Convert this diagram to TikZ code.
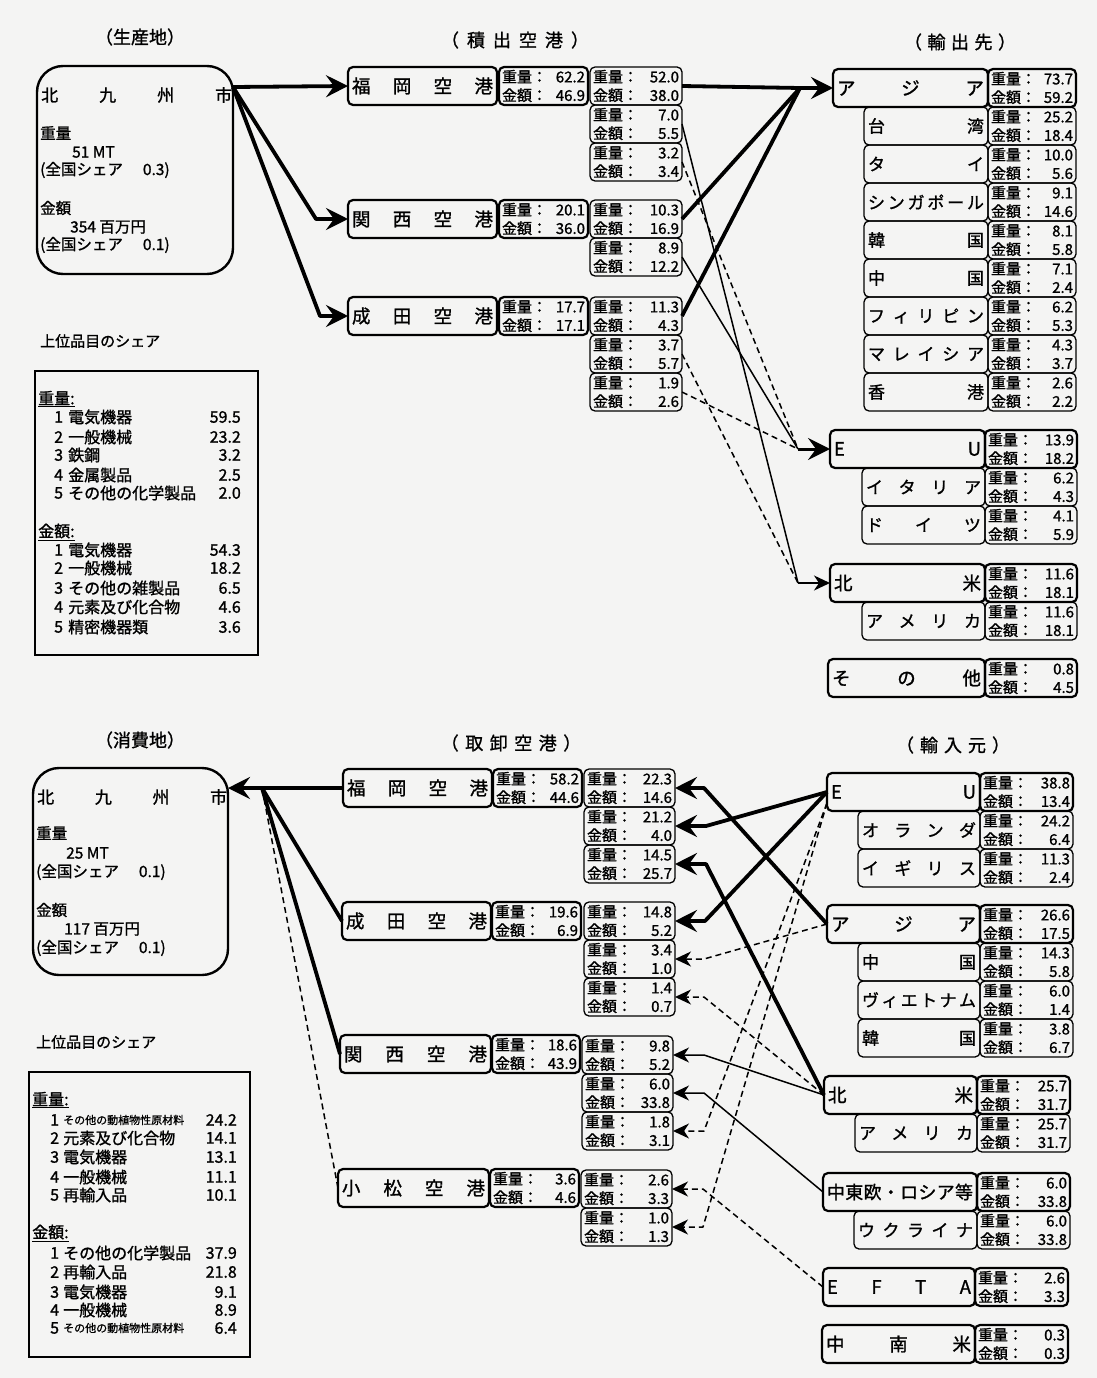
\documentclass[tikz,border=0pt]{standalone}
\usepackage{fontspec}
\setmainfont{Noto Sans CJK JP}[FakeBold=1.2]
\usetikzlibrary{arrows.meta}
\definecolor{paper}{RGB}{244,244,243}
\newcommand{\vfont}{\fontsize{15}{18.5}\selectfont}
\newcommand{\lbx}[2]{\makebox[\dimexpr#1pt-8pt\relax]{#2}}
\newcommand{\vb}[3]{\parbox{\dimexpr#1pt-6pt\relax}{\vfont 重量：\hfill #2\par 金額：\hfill #3}}
\newcommand{\VB}[6]{\node[#1, minimum width=#4pt] (#2) at (#3) {\vb{#4}{#5}{#6}};}
\newcommand{\LB}[5]{\node[#1, minimum width=#4pt] (#2) at (#3) {\lbx{#4}{#5}};}
\newcommand{\IT}[8]{%
\node[anchor=west,inner sep=0pt] (#1n) at (#2,#5) {#6};
\node[anchor=west,inner sep=0pt] (#1t) at (#3,#5) {#7};
\node[anchor=east,inner sep=0pt] (#1v) at (#4,#5) {#8};}
\newcommand{\smallt}[1]{{\fontsize{11}{13}\selectfont #1}}
\tikzset{
 bx/.style={draw, rounded corners=5pt, inner sep=0pt, outer sep=0pt, anchor=north west, minimum height=38pt},
 tkb/.style={bx, line width=2.2pt, font=\fontsize{18.5}{20}\selectfont},
 tnb/.style={bx, line width=1.3pt, font=\fontsize{17}{19}\selectfont},
 bigbox/.style={draw, line width=2.4pt, inner sep=0pt, outer sep=0pt, anchor=north west},
 txt/.style={inner sep=0pt, anchor=west},
 hdr/.style={inner sep=0pt, font=\fontsize{18}{20}\selectfont},
 thk/.style={line width=3.8pt, line join=round},
 thn/.style={line width=1.5pt, line join=round},
 dsh/.style={line width=1.5pt, dash pattern=on 6pt off 4pt, line join=round},
 BigTip/.tip={Stealth[length=22pt,width=22pt,inset=8pt]},
 SmlTip/.tip={Stealth[length=16pt,width=15pt,inset=5pt]},
}
\begin{document}
\begin{tikzpicture}[x=1pt,y=-1pt]
\useasboundingbox (0,0) rectangle (1097,1378);
\fill[paper] (0,0) rectangle (1097,1378);

% ---------------- headers ----------------
\node[hdr] (h1) at (140,37) {（生産地）};
\node[hdr] (h2) at (515,40) {（\hspace{8pt}積\hspace{8pt}出\hspace{8pt}空\hspace{8pt}港\hspace{8pt}）};
\node[hdr] (h3) at (960,42) {（\hspace{5.5pt}輸\hspace{5.5pt}出\hspace{5.5pt}先\hspace{5.5pt}）};
\node[hdr] (h4) at (140,740) {（消費地）};
\node[hdr] (h5) at (511,743) {（\hspace{6.5pt}取\hspace{6.5pt}卸\hspace{6.5pt}空\hspace{6.5pt}港\hspace{6.5pt}）};
\node[hdr] (h6) at (953,745) {（\hspace{6pt}輸\hspace{6pt}入\hspace{6pt}元\hspace{6pt}）};

% ---------------- top left ----------------
\node[draw, line width=2.4pt, rounded corners=26pt, minimum width=196pt, minimum height=208pt, anchor=north west, inner sep=0pt, outer sep=0pt] (prod) at (37,66) {};
\node[txt, font=\fontsize{17}{20}\selectfont] (pt1) at (41,95) {\makebox[191pt]{北\hfill 九\hfill 州\hfill 市}};
\begin{scope}[every node/.style={txt, font=\fontsize{15.5}{18}\selectfont}]
\node (pt2) at (40,133) {重量};
\node (pt3) at (72,152) {51 MT};
\node (pt4) at (40,170) {(全国シェア\hspace{20pt}0.3)};
\node (pt5) at (40,208) {金額};
\node (pt6) at (70,227) {354 百万円};
\node (pt7) at (40,245) {(全国シェア\hspace{20pt}0.1)};
\end{scope}
\node[txt, font=\fontsize{15}{17}\selectfont] (lab1) at (40,341) {上位品目のシェア};
\node[bigbox, minimum width=223pt, minimum height=284pt] (top5a) at (35,371) {};
\begin{scope}[font=\fontsize{16}{18}\selectfont]
\node[txt] (ha1) at (38,399) {\underline{重量:}};
\IT{a1}{54}{68}{241}{417}{1}{電気機器}{59.5}
\IT{a2}{54}{68}{241}{437}{2}{一般機械}{23.2}
\IT{a3}{54}{68}{241}{455}{3}{鉄鋼}{3.2}
\IT{a4}{54}{68}{241}{475}{4}{金属製品}{2.5}
\IT{a5}{54}{68}{241}{493}{5}{その他の化学製品}{2.0}
\node[txt] (ha2) at (38,532) {\underline{金額:}};
\IT{a6}{54}{68}{241}{550}{1}{電気機器}{54.3}
\IT{a7}{54}{68}{241}{568}{2}{一般機械}{18.2}
\IT{a8}{54}{68}{241}{588}{3}{その他の雑製品}{6.5}
\IT{a9}{54}{68}{241}{607}{4}{元素及び化合物}{4.6}
\IT{a10}{54}{68}{241}{627}{5}{精密機器類}{3.6}
\end{scope}

% ---------------- top airports ----------------
\LB{tkb}{F}{348,67}{149}{福\hfill 岡\hfill 空\hfill 港}
\VB{tkb}{Fv}{499,67}{89}{62.2}{46.9}
\VB{tnb}{F1}{590,67}{92}{52.0}{38.0}
\VB{tnb}{F2}{590,105}{92}{7.0}{5.5}
\VB{tnb}{F3}{590,143}{92}{3.2}{3.4}
\LB{tkb}{K}{348,200}{149}{関\hfill 西\hfill 空\hfill 港}
\VB{tkb}{Kv}{499,200}{89}{20.1}{36.0}
\VB{tnb}{K1}{590,200}{92}{10.3}{16.9}
\VB{tnb}{K2}{590,238}{92}{8.9}{12.2}
\LB{tkb}{N}{348,297}{149}{成\hfill 田\hfill 空\hfill 港}
\VB{tkb}{Nv}{499,297}{89}{17.7}{17.1}
\VB{tnb}{N1}{590,297}{92}{11.3}{4.3}
\VB{tnb}{N2}{590,335}{92}{3.7}{5.7}
\VB{tnb}{N3}{590,373}{92}{1.9}{2.6}

% ---------------- top destinations ----------------
\LB{tkb}{As}{833,69}{155}{ア\hfill ジ\hfill ア}
\VB{tkb}{Asv}{988,69}{88}{73.7}{59.2}
\LB{tnb}{dTW}{864,107}{124}{台\hfill 湾}
\VB{tnb}{dTWv}{988,107}{88}{25.2}{18.4}
\LB{tnb}{dTH}{864,145}{124}{タ\hfill イ}
\VB{tnb}{dTHv}{988,145}{88}{10.0}{5.6}
\LB{tnb}{dSG}{864,183}{124}{シ\hfill ン\hfill ガ\hfill ポ\hfill ー\hfill ル}
\VB{tnb}{dSGv}{988,183}{88}{9.1}{14.6}
\LB{tnb}{dKR}{864,221}{124}{韓\hfill 国}
\VB{tnb}{dKRv}{988,221}{88}{8.1}{5.8}
\LB{tnb}{dCN}{864,259}{124}{中\hfill 国}
\VB{tnb}{dCNv}{988,259}{88}{7.1}{2.4}
\LB{tnb}{dPH}{864,297}{124}{フ\hfill ィ\hfill リ\hfill ピ\hfill ン}
\VB{tnb}{dPHv}{988,297}{88}{6.2}{5.3}
\LB{tnb}{dMY}{864,335}{124}{マ\hfill レ\hfill イ\hfill シ\hfill ア}
\VB{tnb}{dMYv}{988,335}{88}{4.3}{3.7}
\LB{tnb}{dHK}{864,373}{124}{香\hfill 港}
\VB{tnb}{dHKv}{988,373}{88}{2.6}{2.2}

\LB{tkb}{EU}{830,430}{155}{E\hfill U}
\VB{tkb}{EUv}{985,430}{92}{13.9}{18.2}
\LB{tnb}{dIT}{862,468}{123}{イ\hfill タ\hfill リ\hfill ア}
\VB{tnb}{dITv}{985,468}{92}{6.2}{4.3}
\LB{tnb}{dDE}{862,506}{123}{ド\hfill イ\hfill ツ}
\VB{tnb}{dDEv}{985,506}{92}{4.1}{5.9}
\LB{tkb}{NA}{830,564}{155}{北\hfill 米}
\VB{tkb}{NAv}{985,564}{92}{11.6}{18.1}
\LB{tnb}{dUS}{862,602}{123}{ア\hfill メ\hfill リ\hfill カ}
\VB{tnb}{dUSv}{985,602}{92}{11.6}{18.1}
\LB{tkb}{OT}{828,659}{157}{そ\hfill の\hfill 他}
\VB{tkb}{OTv}{985,659}{92}{0.8}{4.5}

% ---------------- top connectors ----------------
\coordinate (src) at (233,87);
\draw[thk,-{BigTip}] (src) -- (F.west);
\draw[thk,-{BigTip}] (src) -- ([xshift=-32pt]K.west) -- (K.west);
\draw[thk,-{BigTip}] (src) -- ([xshift=-28pt]N.west) -- (N.west);

\coordinate (jAs) at ([xshift=-33pt]As.west);
\coordinate (jEU) at ([xshift=-32pt]EU.west);
\coordinate (jNA) at ([xshift=-32pt]NA.west);
\draw[thk] (F1.east) -- (jAs);
\draw[thk] (K1.east) -- (jAs);
\draw[thk] (N1.east) -- (jAs);
\draw[thk,-{BigTip}] (jAs) -- (As.west);
\draw[dsh] (F3.east) -- (jEU);
\draw[thn] (K2.east) -- (jEU);
\draw[dsh] (N3.east) -- (jEU);
\draw[line width=3pt,-{BigTip}] (jEU) -- (EU.west);
\draw[thn] (F2.east) -- (jNA);
\draw[dsh] (N2.east) -- (jNA);
\draw[thn,-{SmlTip}] (jNA) -- (NA.west);

% ---------------- bottom left ----------------
\node[draw, line width=2.4pt, rounded corners=26pt, minimum width=195pt, minimum height=207pt, anchor=north west, inner sep=0pt, outer sep=0pt] (cons) at (33,768) {};
\node[txt, font=\fontsize{17}{20}\selectfont] (ct1) at (37,797) {\makebox[190pt]{北\hfill 九\hfill 州\hfill 市}};
\begin{scope}[every node/.style={txt, font=\fontsize{15.5}{18}\selectfont}]
\node (ct2) at (36,833) {重量};
\node (ct3) at (66,853) {25 MT};
\node (ct4) at (36,872) {(全国シェア\hspace{20pt}0.1)};
\node (ct5) at (36,910) {金額};
\node (ct6) at (64,929) {117 百万円};
\node (ct7) at (36,948) {(全国シェア\hspace{20pt}0.1)};
\end{scope}
\node[txt, font=\fontsize{15}{17}\selectfont] (lab2) at (36,1042) {上位品目のシェア};
\node[bigbox, minimum width=221pt, minimum height=285pt] (top5b) at (29,1072) {};
\begin{scope}[font=\fontsize{16}{18}\selectfont]
\node[txt] (hb1) at (32,1100) {\underline{重量:}};
\IT{b1}{50}{63}{237}{1120}{1}{\smallt{その他の動植物性原材料}}{24.2}
\IT{b2}{50}{63}{237}{1138}{2}{元素及び化合物}{14.1}
\IT{b3}{50}{63}{237}{1157}{3}{電気機器}{13.1}
\IT{b4}{50}{63}{237}{1177}{4}{一般機械}{11.1}
\IT{b5}{50}{63}{237}{1195}{5}{再輸入品}{10.1}
\node[txt] (hb2) at (32,1233) {\underline{金額:}};
\IT{b6}{50}{63}{237}{1253}{1}{その他の化学製品}{37.9}
\IT{b7}{50}{63}{237}{1272}{2}{再輸入品}{21.8}
\IT{b8}{50}{63}{237}{1292}{3}{電気機器}{9.1}
\IT{b9}{50}{63}{237}{1310}{4}{一般機械}{8.9}
\IT{b10}{50}{63}{237}{1328}{5}{\smallt{その他の動植物性原材料}}{6.4}
\end{scope}

% ---------------- bottom airports ----------------
\LB{tkb}{bF}{343,769}{149}{福\hfill 岡\hfill 空\hfill 港}
\VB{tkb}{bFv}{493,769}{89}{58.2}{44.6}
\VB{tnb}{bF1}{584,769}{91}{22.3}{14.6}
\VB{tnb}{bF2}{584,807}{91}{21.2}{4.0}
\VB{tnb}{bF3}{584,845}{91}{14.5}{25.7}
\LB{tkb}{bN}{342,902}{149}{成\hfill 田\hfill 空\hfill 港}
\VB{tkb}{bNv}{492,902}{89}{19.6}{6.9}
\VB{tnb}{bN1}{584,902}{91}{14.8}{5.2}
\VB{tnb}{bN2}{584,940}{91}{3.4}{1.0}
\VB{tnb}{bN3}{584,978}{91}{1.4}{0.7}
\LB{tkb}{bK}{340,1035}{151}{関\hfill 西\hfill 空\hfill 港}
\VB{tkb}{bKv}{492,1035}{88}{18.6}{43.9}
\VB{tnb}{bK1}{582,1036}{91}{9.8}{5.2}
\VB{tnb}{bK2}{582,1074}{91}{6.0}{33.8}
\VB{tnb}{bK3}{582,1112}{91}{1.8}{3.1}
\LB{tkb}{bM}{338,1169}{151}{小\hfill 松\hfill 空\hfill 港}
\VB{tkb}{bMv}{490,1169}{89}{3.6}{4.6}
\VB{tnb}{bM1}{581,1170}{91}{2.6}{3.3}
\VB{tnb}{bM2}{581,1208}{91}{1.0}{1.3}

% ---------------- bottom sources ----------------
\LB{tkb}{sEU}{827,773}{153}{E\hfill U}
\VB{tkb}{sEUv}{980,773}{93}{38.8}{13.4}
\LB{tnb}{sNL}{858,811}{122}{オ\hfill ラ\hfill ン\hfill ダ}
\VB{tnb}{sNLv}{980,811}{93}{24.2}{6.4}
\LB{tnb}{sUK}{858,849}{122}{イ\hfill ギ\hfill リ\hfill ス}
\VB{tnb}{sUKv}{980,849}{93}{11.3}{2.4}
\LB{tkb}{sAs}{827,905}{153}{ア\hfill ジ\hfill ア}
\VB{tkb}{sAsv}{980,905}{93}{26.6}{17.5}
\LB{tnb}{sCN}{858,943}{122}{中\hfill 国}
\VB{tnb}{sCNv}{980,943}{93}{14.3}{5.8}
\LB{tnb}{sVN}{858,981}{122}{ヴ\hfill ィ\hfill エ\hfill ト\hfill ナ\hfill ム}
\VB{tnb}{sVNv}{980,981}{93}{6.0}{1.4}
\LB{tnb}{sKR}{858,1019}{122}{韓\hfill 国}
\VB{tnb}{sKRv}{980,1019}{93}{3.8}{6.7}
\LB{tkb}{sNA}{824,1076}{153}{北\hfill 米}
\VB{tkb}{sNAv}{977,1076}{93}{25.7}{31.7}
\LB{tnb}{sUS}{855,1114}{122}{ア\hfill メ\hfill リ\hfill カ}
\VB{tnb}{sUSv}{977,1114}{93}{25.7}{31.7}
\LB{tkb}{sCE}{823,1173}{154}{\fontsize{18}{20}\selectfont 中\hfill 東\hfill 欧\hfill ・\hfill ロ\hfill シ\hfill ア\hfill 等}
\VB{tkb}{sCEv}{977,1173}{93}{6.0}{33.8}
\LB{tnb}{sUA}{854,1211}{123}{ウ\hfill ク\hfill ラ\hfill イ\hfill ナ}
\VB{tnb}{sUAv}{977,1211}{93}{6.0}{33.8}
\LB{tkb}{sEF}{823,1268}{152}{E\hfill F\hfill T\hfill A}
\VB{tkb}{sEFv}{975,1268}{93}{2.6}{3.3}
\LB{tkb}{sLA}{822,1325}{153}{中\hfill 南\hfill 米}
\VB{tkb}{sLAv}{975,1325}{93}{0.3}{0.3}

% ---------------- bottom connectors ----------------
\coordinate (dst0) at (cons.east |- bF.west);
\coordinate (dst) at ([xshift=34pt]dst0);
\draw[thk] (bF.west) -- (dst);
\draw[thk] (bN.west) -- (dst);
\draw[thk] (bK.west) -- (dst);
\draw[dsh] (bM.west) -- (dst);
\draw[thk,-{BigTip}] (dst) -- (dst0);

\coordinate (eu2) at ([yshift=8pt]sEU.south west);
\draw[thk,-{BigTip}] (sAs.west) -- ([xshift=29pt]bF1.east) -- (bF1.east);
\draw[thk,-{BigTip}] (sEU.west) -- ([xshift=31pt]bF2.east) -- (bF2.east);
\draw[thk,-{BigTip}] (sNA.west) -- ([xshift=31pt]bF3.east) -- (bF3.east);
\draw[thk,-{BigTip}] (sEU.west) -- ([xshift=30pt]bN1.east) -- (bN1.east);
\draw[dsh,-{SmlTip}] (sAs.west) -- ([xshift=29pt]bN2.east) -- (bN2.east);
\draw[dsh,-{SmlTip}] (sNA.west) -- ([xshift=29pt]bN3.east) -- (bN3.east);
\draw[thn,-{SmlTip}] (sNA.west) -- ([xshift=31pt]bK1.east) -- (bK1.east);
\draw[thn,-{SmlTip}] (sCE.west) -- ([xshift=31pt]bK2.east) -- (bK2.east);
\draw[dsh,-{SmlTip}] (eu2) -- ([xshift=31pt]bK3.east) -- (bK3.east);
\draw[dsh,-{SmlTip}] (sEF.west) -- ([xshift=31pt]bM1.east) -- (bM1.east);
\draw[dsh,-{SmlTip}] (eu2) -- ([xshift=31pt]bM2.east) -- (bM2.east);
\end{tikzpicture}
\end{document}
